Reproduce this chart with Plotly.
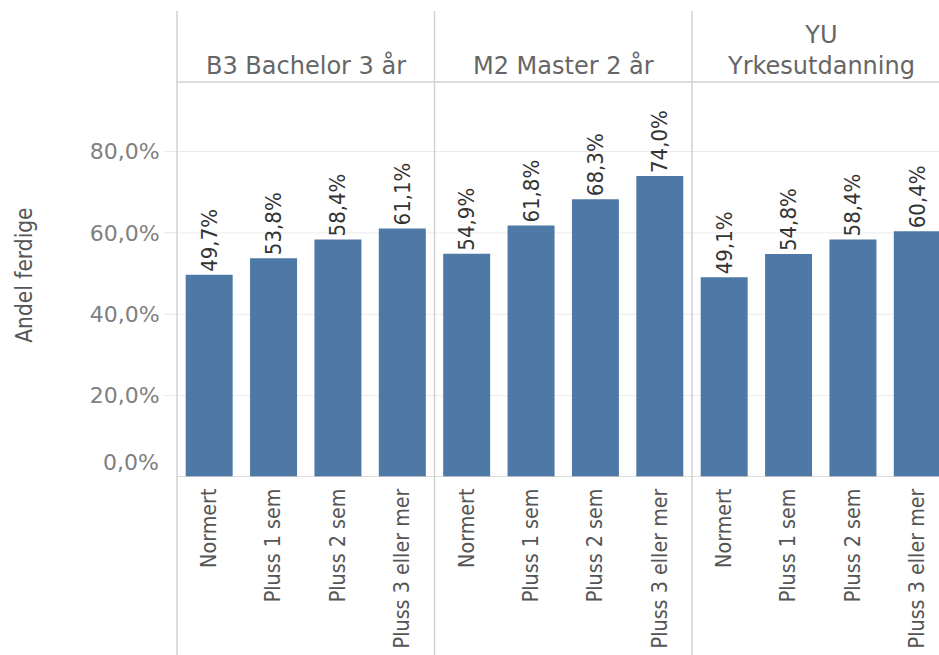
import plotly.graph_objects as go

programs = ["B3 Bachelor 3 år", "M2 Master 2 år", "YU<br>Yrkesutdanning"]
categories = ["Normert", "Pluss 1 sem", "Pluss 2 sem", "Pluss 3 eller mer"]
values_b3 = [0.497, 0.538, 0.584, 0.611]
values_m2 = [0.549, 0.618, 0.683, 0.740]
values_yu = [0.491, 0.548, 0.584, 0.604]
y_ticks = [0.0, 0.2, 0.4, 0.6, 0.8]
y_tick_labels = ["0,0%", "20,0%", "40,0%", "60,0%", "80,0%"]

series = [values_b3, values_m2, values_yu]
n = len(categories)
X_RANGE = [-0.5, 11.337]

xs, ys, labels = [], [], []
for p, vals in enumerate(series):
    for i, v in enumerate(vals):
        xs.append(p * n + i)
        ys.append(v)
        labels.append(categories[i])

NARROW = "DejaVu Sans Condensed, Liberation Sans Narrow, Liberation Sans, sans-serif"
WIDE = "DejaVu Sans, Verdana, sans-serif"
GRID = "#ebebeb"
SEP = "#d0d0d0"
TICK_FONT = dict(family=WIDE, size=22, color="#808080")

fig = go.Figure()
fig.add_trace(go.Bar(
    x=xs, y=ys, width=0.73,
    marker=dict(color="#4e79a7", line=dict(width=0)),
    texttemplate="%{y:.1%}", textposition="outside", textangle=-90,
    constraintext="none", cliponaxis=False,
    textfont=dict(family=NARROW, size=22, color="#333333"),
    hoverinfo="skip",
))

def to_paper(xv):
    return (xv - X_RANGE[0]) / (X_RANGE[1] - X_RANGE[0])

shapes = []
for t in y_ticks[1:]:
    shapes.append(dict(type="line", xref="paper", yref="y", x0=-0.016, x1=1, y0=t, y1=t,
                       line=dict(color=GRID, width=1), layer="below"))
shapes.append(dict(type="line", xref="paper", yref="y", x0=0, x1=1, y0=0, y1=0,
                   line=dict(color=SEP, width=1.5)))
shapes.append(dict(type="line", xref="paper", yref="paper", x0=0, x1=1, y0=1, y1=1,
                   line=dict(color=SEP, width=1.5)))
for p in range(len(programs)):
    xp = to_paper(p * n - 0.5)
    shapes.append(dict(type="line", xref="paper", yref="paper", x0=xp, x1=xp, y0=-0.46, y1=1.18,
                       line=dict(color=SEP, width=1.5)))

annotations = []
for p, name in enumerate(programs):
    annotations.append(dict(text=name, xref="x", yref="paper", x=p * n + (n - 1) / 2, y=1,
                            yanchor="bottom", xanchor="center", yshift=0, showarrow=False,
                            font=dict(family=WIDE, size=24, color="#666666")))
annotations.append(dict(text="Andel ferdige", xref="paper", yref="paper",
                        x=-0.2, y=0.511, xanchor="center", yanchor="middle", textangle=-90,
                        showarrow=False, font=dict(family=NARROW, size=22.5, color="#555555")))
# bottom tick label is lifted above the baseline, as in the reference
annotations.append(dict(text=y_tick_labels[0], xref="paper", yref="y", x=0, y=y_ticks[0],
                        xanchor="right", yanchor="middle", xshift=-16, yshift=15,
                        showarrow=False, font=TICK_FONT))

fig.update_layout(
    width=939, height=655, autosize=False,
    margin=dict(l=177, r=0, t=82, b=178, pad=0),
    paper_bgcolor="white", plot_bgcolor="white",
    separators=",.",
    showlegend=False,
    shapes=shapes, annotations=annotations,
    xaxis=dict(range=X_RANGE, tickmode="array", tickvals=xs, ticktext=labels,
               tickangle=-90, showgrid=False, zeroline=False, showline=False, automargin=False,
               ticks="outside", ticklen=2, tickcolor="rgba(0,0,0,0)",
               tickfont=dict(family=NARROW, size=21.3, color="#555555")),
    yaxis=dict(range=[0, 0.971], tickmode="array", tickvals=y_ticks[1:], ticktext=y_tick_labels[1:],
               showgrid=False, zeroline=False, showline=False, automargin=False,
               ticks="outside", ticklen=12, tickcolor=GRID,
               tickfont=TICK_FONT),
)

fig.write_html("out.html", config={"displayModeBar": False},
               post_script="document.body.style.margin='0';document.body.style.overflow='hidden';")
